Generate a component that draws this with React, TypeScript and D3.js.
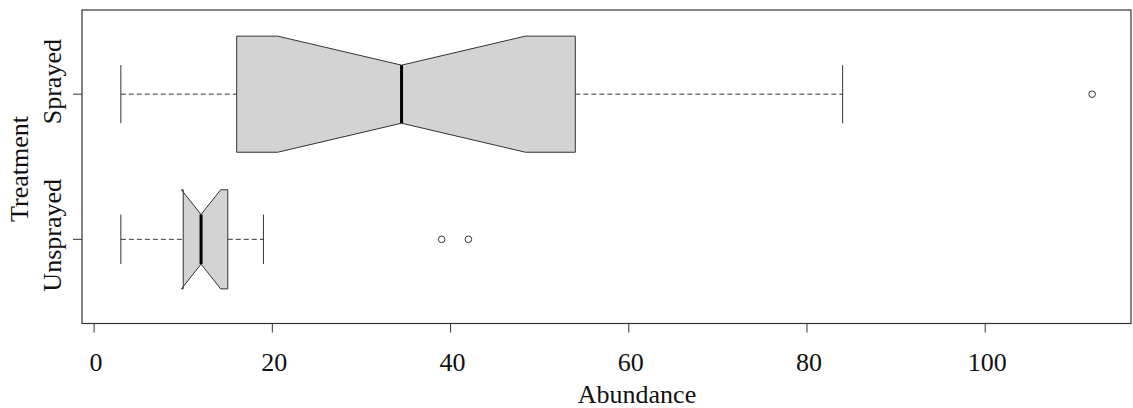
import React from 'react';
import * as d3 from 'd3';

// values
const groups = ['Unsprayed', 'Sprayed'];
const whiskerLow = [3, 3];
const q1 = [10, 16];
const medians = [12, 34.5];
const q3 = [15, 54];
const whiskerHigh = [19, 84];
const notchLow = [9.8, 20.6];
const notchHigh = [14.2, 48.4];
const boxWidths = [0.683, 0.8];
const outliers = [[39, 42], [112]];
const xTicks = [0, 20, 40, 60, 80, 100];

const W = 1133, H = 408;
const left = 82, right = 1131, top = 10, bottom = 323.5;
const font = '"Liberation Serif", "Times New Roman", serif';
const lineCol = '#333';
const fs = 26;
// label centres as they sit in the picture (not exactly on the ticks)
const labelShift = [-4, -12.5];

export default function App() {
  const x = d3.scaleLinear().domain([-1.36, 116.36]).range([left, right]);
  const y = d3.scaleLinear().domain([0.42, 2.58]).range([bottom, top]);
  const pxPerUnit = y(1) - y(2);

  return (
    <svg width={W} height={H} style={{ position: 'absolute', left: 0, top: 0, background: '#fff' }}
         fontFamily={font}>
      {groups.map((g, i) => {
        const cy = y(i + 1);
        const half = boxWidths[i] * pxPerUnit / 2;
        const nh = half / 2;
        const cap = half / 2;
        const pts: [number, number][] = [
          [x(q1[i]), cy - half],
          [x(notchLow[i]), cy - half],
          [x(medians[i]), cy - nh],
          [x(notchHigh[i]), cy - half],
          [x(q3[i]), cy - half],
          [x(q3[i]), cy + half],
          [x(notchHigh[i]), cy + half],
          [x(medians[i]), cy + nh],
          [x(notchLow[i]), cy + half],
          [x(q1[i]), cy + half],
        ];
        return (
          <g key={g}>
            <line x1={x(whiskerLow[i])} x2={x(q1[i])} y1={cy} y2={cy}
                  stroke={lineCol} strokeDasharray="5,3" />
            <line x1={x(q3[i])} x2={x(whiskerHigh[i])} y1={cy} y2={cy}
                  stroke={lineCol} strokeDasharray="5,3" />
            <line x1={x(whiskerLow[i])} x2={x(whiskerLow[i])} y1={cy - cap} y2={cy + cap} stroke={lineCol} />
            <line x1={x(whiskerHigh[i])} x2={x(whiskerHigh[i])} y1={cy - cap} y2={cy + cap} stroke={lineCol} />
            <path d={d3.line()(pts) + 'Z'} fill="#d3d3d3" stroke={lineCol} strokeWidth={1} />
            <line x1={x(medians[i])} x2={x(medians[i])} y1={cy - nh} y2={cy + nh}
                  stroke="#000" strokeWidth={3} />
            {outliers[i].map((v, j) => (
              <circle key={j} cx={x(v)} cy={cy} r={3.3} fill="none" stroke={lineCol} />
            ))}
            <line x1={left - 9} x2={left} y1={cy} y2={cy} stroke={lineCol} />
            <text transform={`translate(61,${cy + labelShift[i]}) rotate(-90)`} textAnchor="middle"
                  fontSize={fs} fill="#111">{g}</text>
          </g>
        );
      })}
      <rect x={left} y={top} width={right - left} height={bottom - top}
            fill="none" stroke={lineCol} strokeWidth={1.2} />
      {xTicks.map(t => (
        <g key={t}>
          <line x1={x(t)} x2={x(t)} y1={bottom} y2={bottom + 9} stroke={lineCol} />
          <text x={x(t) + 2} y={371} textAnchor="middle" fontSize={fs} fill="#111">{t}</text>
        </g>
      ))}
      <text x={637} y={403} textAnchor="middle" fontSize={fs} fill="#111">Abundance</text>
      <text transform={`translate(28,169) rotate(-90)`} textAnchor="middle"
            fontSize={fs} fill="#111">Treatment</text>
    </svg>
  );
}
